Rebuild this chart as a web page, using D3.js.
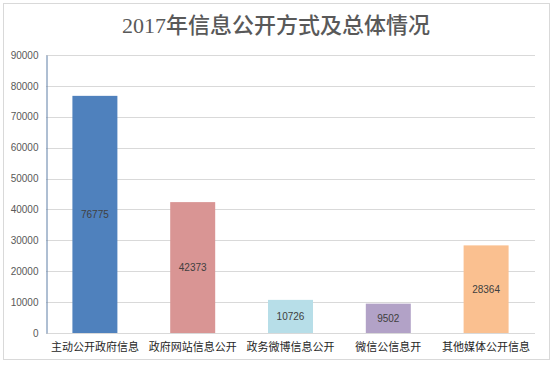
<!DOCTYPE html>
<html>
<head>
<meta charset="utf-8">
<script src="https://cdn.jsdelivr.net/npm/d3@7"></script>
<style>
	body { margin: 0; background: #fff; }
	svg { display: block; }
</style>
</head>
<body>
<div id="chart"></div>
<script>
const categories = ["主动公开政府信息", "政府网站信息公开", "政务微博信息公开", "微信公信息开", "其他媒体公开信息"]
const values = [76775, 42373, 10726, 9502, 28364]
const barColors = ["#4f81bd", "#d99594", "#b7dee8", "#b2a2c7", "#fac090"]
const yTicks = [0, 10000, 20000, 30000, 40000, 50000, 60000, 70000, 80000, 90000]
const titleText = "2017年信息公开方式及总体情况"

const WIDTH = 553
const HEIGHT = 366
const margin = { top: 55, right: 18, bottom: 33, left: 46 }

const svg = d3.select("#chart").append("svg")
	.attr("width", WIDTH)
	.attr("height", HEIGHT)

// outer frame
svg.append("rect")
	.attr("x", 3.5).attr("y", 3.5)
	.attr("width", 546).attr("height", 356)
	.attr("fill", "#fff")
	.attr("stroke", "#d9d9d9")

svg.append("text")
	.attr("x", 276)
	.attr("y", 33)
	.attr("text-anchor", "middle")
	.attr("font-family", "'Liberation Serif', 'Noto Sans CJK SC', serif")
	.attr("font-size", 22)
	.attr("font-weight", 500)
	.attr("fill", "#595959")
	.text(titleText)

const x = d3.scaleBand()
	.domain(categories)
	.range([margin.left, WIDTH - margin.right])
	.paddingInner(0.54)
	.paddingOuter(0.27)

const y = d3.scaleLinear()
	.domain([0, 90000])
	.range([HEIGHT - margin.bottom, margin.top])

// gridlines
svg.append("g")
	.selectAll("line")
	.data(yTicks.filter(d => d > 0))
	.join("line")
		.attr("x1", margin.left)
		.attr("x2", WIDTH - margin.right)
		.attr("y1", d => Math.round(y(d)) + 0.5)
		.attr("y2", d => Math.round(y(d)) + 0.5)
		.attr("stroke", "#d9d9d9")

// baseline
svg.append("line")
	.attr("x1", margin.left).attr("x2", WIDTH - margin.right)
	.attr("y1", Math.round(y(0)) + 0.5).attr("y2", Math.round(y(0)) + 0.5)
	.attr("stroke", "#d9d9d9")

const yAxis = svg.append("g")
	.attr("transform", `translate(${margin.left + 0.5},0)`)
	.call(d3.axisLeft(y).tickValues(yTicks).tickSize(0).tickPadding(8).tickFormat(d3.format("d")))
yAxis.select(".domain").attr("stroke", "#5e7ea6")
yAxis.selectAll("text")
	.attr("font-family", "'Liberation Sans', Arial, sans-serif")
	.attr("font-size", 10)
	.attr("fill", "#595959")

svg.append("g")
	.selectAll("rect")
	.data(values)
	.join("rect")
		.attr("x", (d, i) => x(categories[i]))
		.attr("y", d => y(d))
		.attr("width", x.bandwidth())
		.attr("height", d => y(0) - y(d))
		.attr("fill", (d, i) => barColors[i])

svg.append("g")
	.selectAll("text")
	.data(values)
	.join("text")
		.attr("x", (d, i) => x(categories[i]) + x.bandwidth() / 2)
		.attr("y", d => (y(d) + y(0)) / 2)
		.attr("dy", "0.35em")
		.attr("text-anchor", "middle")
		.attr("font-family", "'Liberation Sans', Arial, sans-serif")
		.attr("font-size", 10)
		.attr("fill", "#404040")
		.text(d => d)

svg.append("g")
	.selectAll("text")
	.data(categories)
	.join("text")
		.attr("x", d => x(d) + x.bandwidth() / 2)
		.attr("y", 351)
		.attr("text-anchor", "middle")
		.attr("font-family", "'Noto Sans CJK SC', sans-serif")
		.attr("font-size", 11)
		.attr("fill", "#262626")
		.text(d => d)
</script>
</body>
</html>
